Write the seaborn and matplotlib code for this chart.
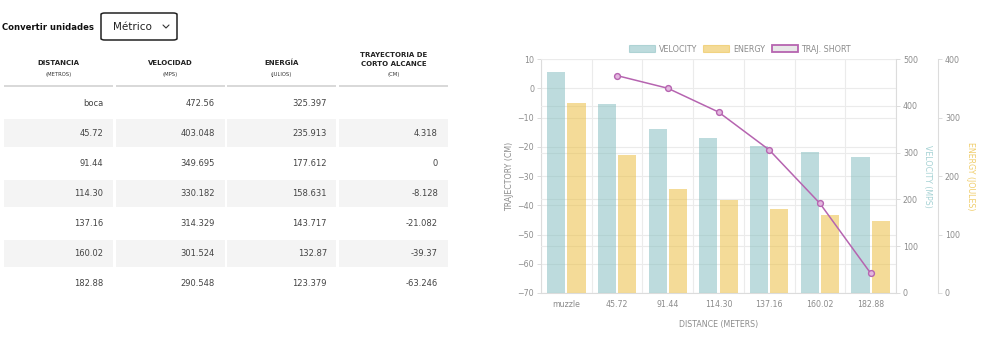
import numpy as np
import pandas as pd
import matplotlib
matplotlib.use("Agg")
import matplotlib.pyplot as plt
import seaborn as sns
from matplotlib.patches import Rectangle, FancyBboxPatch, Patch
from matplotlib.lines import Line2D

# ---------------- data ----------------
table_distance = ["boca", "45.72", "91.44", "114.30", "137.16", "160.02", "182.88"]
chart_distance = ["muzzle", "45.72", "91.44", "114.30", "137.16", "160.02", "182.88"]
velocity_mps = [472.56, 403.048, 349.695, 330.182, 314.329, 301.524, 290.548]
energy_joules = [325.397, 235.913, 177.612, 158.631, 143.717, 132.87, 123.379]
trajectory_cm = [None, 4.318, 0, -8.128, -21.082, -39.37, -63.246]

table_headers = [["DISTANCIA"], ["VELOCIDAD"], ["ENERGÍA"], ["TRAYECTORIA DE", "CORTO ALCANCE"]]
table_units = ["(METROS)", "(MPS)", "(JULIOS)", "(CM)"]

traj_ticks = [-70, -60, -50, -40, -30, -20, -10, 0, 10]
vel_ticks = [0, 100, 200, 300, 400, 500]
energy_ticks = [0, 100, 200, 300, 400]

legend_labels = ["VELOCITY", "ENERGY", "TRAJ. SHORT"]

# ---------------- style ----------------
sns.set_style("white")
plt.rcParams["font.family"] = ["DejaVu Sans"]

VEL = "#87bfc1"
ENE = "#ebbf44"
PURPLE = "#b664b0"
TICK = "#8c8c8c"
GRID = "#ebebeb"
SPINE = "#dcdcdc"

W, H = 1000, 347
fig = plt.figure(figsize=(W / 100, H / 100), dpi=100)


def fx(x):
    return x / W


def fy(y):
    return 1 - y / H


# ---------------- left: unit selector + table ----------------
fig.text(fx(2), fy(27), "Convertir unidades", fontsize=6.1, fontweight="bold",
         color="#111111", ha="left", va="center")
fig.patches.append(FancyBboxPatch((fx(101), fy(40)), fx(76), 27 / H,
                                  boxstyle="round,pad=0,rounding_size=0.004",
                                  transform=fig.transFigure, facecolor="white",
                                  edgecolor="#222222", linewidth=1.1))
fig.text(fx(113), fy(27), "Métrico", fontsize=7.5, color="#222222", ha="left", va="center")
fig.lines.append(Line2D([fx(163), fx(166), fx(169)], [fy(25), fy(28), fy(25)],
                        transform=fig.transFigure, color="#333333", linewidth=0.8))

col_left = [4, 116, 227, 339]
col_right = [113, 225, 336, 448]
col_text_right = [103, 215, 327, 438]

for c in range(4):
    cx = (col_left[c] + col_right[c]) / 2
    lines = table_headers[c]
    if len(lines) == 1:
        fig.text(fx(cx), fy(63), lines[0], fontsize=5.0, fontweight="bold",
                 color="#222222", ha="center", va="center")
    else:
        fig.text(fx(cx), fy(55), lines[0], fontsize=5.0, fontweight="bold",
                 color="#222222", ha="center", va="center")
        fig.text(fx(cx), fy(64.5), lines[1], fontsize=5.0, fontweight="bold",
                 color="#222222", ha="center", va="center")
    fig.text(fx(cx), fy(74.5), table_units[c], fontsize=3.8, color="#333333",
             ha="center", va="center")
    fig.patches.append(Rectangle((fx(col_left[c]), fy(87)), fx(col_right[c] - col_left[c]),
                                 2 / H, transform=fig.transFigure,
                                 facecolor="#d9d9d9", edgecolor="none"))


def fmt(v):
    return "" if v is None else str(v)


rows = list(zip(table_distance, velocity_mps, energy_joules, trajectory_cm))
for i, row in enumerate(rows):
    yc = 103 + 30 * i
    if i % 2 == 1:
        for c in range(4):
            fig.patches.append(Rectangle((fx(col_left[c]), fy(yc + 13.5)),
                                         fx(col_right[c] - col_left[c]), 27 / H,
                                         transform=fig.transFigure,
                                         facecolor="#f4f4f4", edgecolor="none"))
    for c, val in enumerate(row):
        txt = val if c == 0 else fmt(val)
        fig.text(fx(col_text_right[c]), fy(yc), txt, fontsize=6.0, color="#444444",
                 ha="right", va="center")

# ---------------- right: chart ----------------
ax = fig.add_axes([fx(541), fy(293), 355 / W, 234 / H])
ax_vel = ax.twinx()
ax_en = ax.twinx()
ax_line = ax.twinx()

bar_df = pd.DataFrame({
    "distance": chart_distance * 2,
    "series": ["Velocity"] * len(chart_distance) + ["Energy"] * len(chart_distance),
    "value": velocity_mps + energy_joules,
})
palette = {"Velocity": VEL, "Energy": ENE}
hue_order = ["Velocity", "Energy"]

ax_vel.set_axisbelow(True)
sns.barplot(data=bar_df[bar_df["series"] == "Velocity"], x="distance", y="value",
            hue="series", hue_order=hue_order, order=chart_distance, palette=palette,
            saturation=1, width=0.8, gap=0.1, dodge=True, alpha=0.55, linewidth=0,
            errorbar=None, legend=False, ax=ax_vel)
sns.barplot(data=bar_df[bar_df["series"] == "Energy"], x="distance", y="value",
            hue="series", hue_order=hue_order, order=chart_distance, palette=palette,
            saturation=1, width=0.8, gap=0.1, dodge=True, alpha=0.55, linewidth=0,
            errorbar=None, legend=False, ax=ax_en)

line_df = pd.DataFrame({"distance": chart_distance,
                        "traj": [np.nan if v is None else v for v in trajectory_cm]})
sns.pointplot(data=line_df, x="distance", y="traj", order=chart_distance, color=PURPLE,
              errorbar=None, markers="o", linestyles="-", linewidth=1.1,
              markersize=4.2, markeredgewidth=1.0, markerfacecolor="#e3b8df",
              markeredgecolor=PURPLE, ax=ax_line)

# limits
for a in (ax, ax_vel, ax_en, ax_line):
    a.set_xlim(-0.5, len(chart_distance) - 0.5)
ax.set_ylim(traj_ticks[0], traj_ticks[-1])
ax_line.set_ylim(traj_ticks[0], traj_ticks[-1])
ax_vel.set_ylim(vel_ticks[0], vel_ticks[-1])
ax_en.set_ylim(energy_ticks[0], energy_ticks[-1])
ax_line.set_axis_off()

# host axis (trajectory)
ax.set_yticks(traj_ticks)
ax.set_xticks(range(len(chart_distance)))
ax.set_xticklabels(chart_distance)
ax.set_xticks(np.arange(-0.5, len(chart_distance), 1.0), minor=True)
ax.grid(True, axis="y", which="major", color=GRID, linewidth=0.8)
ax.grid(True, axis="x", which="minor", color=GRID, linewidth=0.8)
ax.grid(False, axis="x", which="major")
ax.tick_params(axis="y", direction="out", length=3, width=0.7, color=SPINE,
               labelcolor=TICK, labelsize=5.7, pad=2, left=True)
ax.tick_params(axis="x", which="major", length=0, labelcolor=TICK, labelsize=5.7, pad=5)
ax.tick_params(axis="x", which="minor", direction="out", length=3, width=0.7, color=SPINE)
for s in ("top", "right"):
    ax.spines[s].set_visible(False)
for s in ("left", "bottom"):
    ax.spines[s].set_color(SPINE)
    ax.spines[s].set_linewidth(0.8)
ax.set_xlabel("DISTANCE (METERS)", fontsize=5.7, color=TICK)
ax.xaxis.set_label_coords(0.5, -0.115)
ax.set_ylabel("TRAJECTORY (CM)", fontsize=5.7, color=TICK, va="center")
ax.yaxis.set_label_coords((510 - 541) / 355, 0.5)

# velocity axis
ax_vel.set_yticks(vel_ticks)
ax_vel.grid(True, axis="y", color=GRID, linewidth=0.8)
ax_vel.grid(False, axis="x")
ax_vel.tick_params(axis="y", direction="out", length=3, width=0.7, color=SPINE,
                   labelcolor=TICK, labelsize=5.7, pad=2, right=True)
for s in ("top", "left", "bottom"):
    ax_vel.spines[s].set_visible(False)
ax_vel.spines["right"].set_color(SPINE)
ax_vel.spines["right"].set_linewidth(0.8)
ax_vel.set_ylabel("VELOCITY (MPS)", fontsize=5.7, color="#a6d2d4", rotation=-90,
                  va="center", ha="center")
ax_vel.yaxis.set_label_coords((928 - 541) / 355, 0.5)
ax_vel.set_xlabel("")

# energy axis
ax_en.spines["right"].set_position(("axes", (938 - 541) / 355))
ax_en.set_yticks(energy_ticks)
ax_en.grid(False)
ax_en.tick_params(axis="y", direction="out", length=3, width=0.7, color=SPINE,
                  labelcolor=TICK, labelsize=5.7, pad=2, right=True)
for s in ("top", "left", "bottom"):
    ax_en.spines[s].set_visible(False)
ax_en.spines["right"].set_color(SPINE)
ax_en.spines["right"].set_linewidth(0.8)
ax_en.set_ylabel("ENERGY (JOULES)", fontsize=5.7, color="#f0cd6a", rotation=-90,
                 va="center", ha="center")
ax_en.yaxis.set_label_coords((970 - 541) / 355, 0.5)
ax_en.set_xlabel("")

# legend
handles = [
    Patch(facecolor=VEL, alpha=0.55, edgecolor=VEL, linewidth=0.8),
    Patch(facecolor=ENE, alpha=0.55, edgecolor=ENE, linewidth=0.8),
    Patch(facecolor="#e8e8e8", edgecolor=PURPLE, linewidth=1.3),
]
fig.legend(handles, legend_labels, loc="center", bbox_to_anchor=(fx(740), fy(49)),
           ncol=3, frameon=False, fontsize=5.8, labelcolor=TICK,
           handlelength=3.2, handleheight=1.0, handletextpad=0.5, columnspacing=0.8,
           borderpad=0, borderaxespad=0)

fig.savefig("out.png", dpi=100, facecolor="white")
